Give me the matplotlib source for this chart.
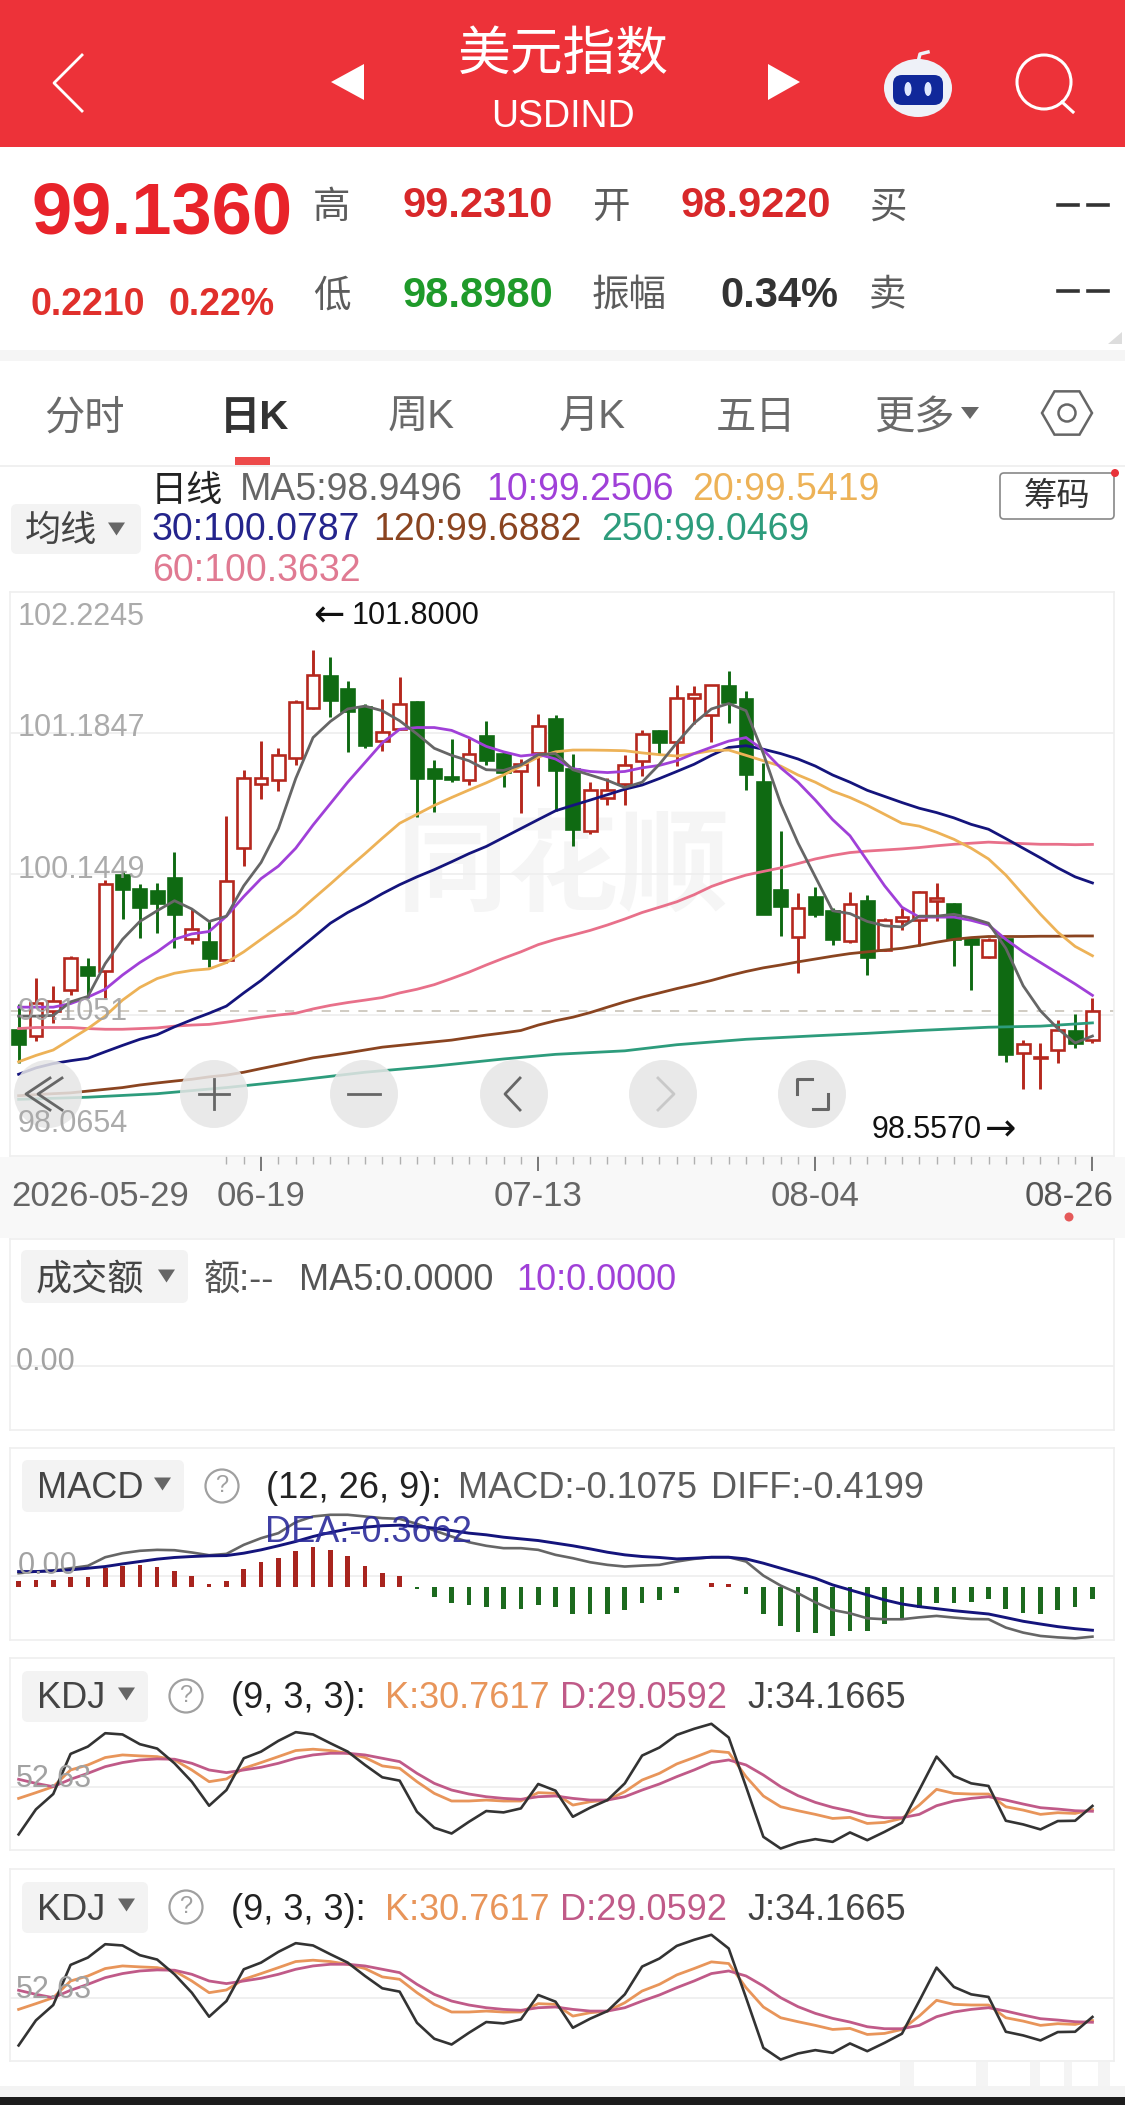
import numpy as np
import matplotlib
matplotlib.use("Agg")
import matplotlib.pyplot as plt
from matplotlib.patches import Circle, Ellipse, FancyBboxPatch, Polygon, Rectangle, RegularPolygon

plt.rcParams['font.family'] = ['Liberation Sans', 'Noto Sans CJK SC', 'DejaVu Sans']

W, H = 1125, 2105

# daily candles
opens = [98.991, 98.947, 99.136, 99.289, 99.460, 99.426, 100.137, 100.037, 100.016, 100.119, 99.663, 99.642, 99.511,
         100.335, 100.809, 100.835, 101.001, 101.370, 101.604, 101.512, 101.375, 101.125, 101.217, 101.410, 100.920,
         100.862, 100.835, 101.165, 101.033, 100.907, 101.038, 101.288, 100.922, 100.461, 100.704, 100.809, 100.980,
         101.199, 101.117, 101.441, 101.317, 101.528, 101.433, 100.827, 100.027, 99.684, 99.974, 99.874, 99.650,
         99.945, 99.584, 99.795, 99.808, 99.945, 99.927, 99.663, 99.532, 99.669, 98.826, 98.789, 98.847, 98.984, 98.922]
closes = [98.894, 99.194, 99.210, 99.526, 99.400, 100.071, 100.037, 99.900, 99.934, 99.848, 99.742, 99.526, 100.090,
          100.854, 100.854, 101.025, 101.412, 101.612, 101.428, 101.349, 101.099, 101.191, 101.396, 100.854, 100.854,
          100.849, 101.028, 100.985, 100.896, 100.954, 101.238, 100.914, 100.480, 100.764, 100.762, 100.949, 101.178,
          101.120, 101.446, 101.473, 101.539, 101.410, 100.880, 99.853, 99.906, 99.895, 99.848, 99.663, 99.927,
          99.532, 99.808, 99.829, 100.011, 99.966, 99.669, 99.629, 99.655, 98.820, 98.891, 98.799, 98.997, 98.899, 99.136]
highs = [99.189, 99.379, 99.321, 99.539, 99.524, 100.098, 100.164, 100.071, 100.079, 100.309, 99.887, 99.808, 100.572,
         100.914, 101.125, 101.072, 101.428, 101.800, 101.744, 101.565, 101.396, 101.433, 101.594, 101.423, 100.988,
         101.144, 101.151, 101.270, 101.046, 100.993, 101.323, 101.317, 101.028, 100.822, 100.856, 101.025, 101.209,
         101.204, 101.541, 101.528, 101.539, 101.639, 101.494, 100.967, 100.459, 100.006, 100.050, 99.892, 100.014,
         99.992, 99.821, 99.892, 100.019, 100.077, 99.932, 99.676, 99.676, 99.676, 98.920, 98.899, 99.070, 99.110, 99.231]
lows = [98.754, 98.912, 99.044, 99.255, 99.229, 99.229, 99.816, 99.676, 99.711, 99.597, 99.632, 99.458, 99.492,
        100.203, 100.696, 100.756, 100.949, 101.362, 101.304, 101.046, 101.072, 101.054, 101.204, 100.564, 100.604,
        100.827, 100.801, 100.949, 100.788, 100.598, 100.796, 100.611, 100.353, 100.440, 100.651, 100.651, 100.870,
        101.028, 100.941, 101.249, 101.120, 101.262, 100.762, 99.853, 99.690, 99.413, 99.827, 99.624, 99.637,
        99.400, 99.579, 99.729, 99.611, 99.795, 99.466, 99.289, 99.526, 98.762, 98.557, 98.560, 98.754, 98.860, 98.898]

ma5 = [99.097, 99.097, 99.102, 99.202, 99.242, 99.484, 99.663, 99.795, 99.874, 99.948, 99.887, 99.795, 99.834,
       100.058, 100.230, 100.480, 100.849, 101.151, 101.270, 101.362, 101.383, 101.349, 101.275, 101.178, 101.072,
       101.020, 100.980, 100.914, 100.909, 100.949, 101.025, 101.033, 100.914, 100.875, 100.835, 100.783, 100.822,
       100.954, 101.112, 101.257, 101.362, 101.402, 101.349, 101.033, 100.664, 100.374, 100.124, 99.874, 99.853,
       99.795, 99.763, 99.755, 99.834, 99.834, 99.848, 99.821, 99.782, 99.597, 99.321, 99.136, 99.005, 98.899, 98.950]
ma10 = [99.163, 99.163, 99.163, 99.189, 99.237, 99.295, 99.400, 99.492, 99.571, 99.663, 99.703, 99.721, 99.834,
        99.979, 100.111, 100.203, 100.335, 100.506, 100.664, 100.822, 100.967, 101.112, 101.212, 101.225, 101.225,
        101.204, 101.151, 101.086, 101.046, 101.015, 101.028, 100.993, 100.922, 100.901, 100.893, 100.901, 100.928,
        100.946, 100.980, 101.033, 101.080, 101.125, 101.151, 101.059, 100.928, 100.822, 100.690, 100.546, 100.427,
        100.243, 100.058, 99.900, 99.827, 99.827, 99.827, 99.803, 99.769, 99.663, 99.571, 99.492, 99.413, 99.334, 99.250]
ma20 = [98.760, 98.807, 98.847, 98.926, 99.005, 99.097, 99.215, 99.308, 99.374, 99.413, 99.434, 99.445, 99.492,
        99.571, 99.663, 99.755, 99.848, 99.961, 100.071, 100.185, 100.295, 100.409, 100.519, 100.585, 100.651,
        100.709, 100.764, 100.817, 100.875, 100.941, 101.007, 101.046, 101.059, 101.059, 101.057, 101.054, 101.038,
        101.025, 101.015, 101.033, 101.054, 101.059, 101.020, 100.980, 100.941, 100.875, 100.822, 100.756, 100.709,
        100.651, 100.585, 100.519, 100.498, 100.453, 100.401, 100.335, 100.256, 100.137, 99.992, 99.848, 99.716, 99.611, 99.542]
ma30 = [98.668, 98.715, 98.747, 98.768, 98.786, 98.834, 98.881, 98.926, 98.960, 99.018, 99.070, 99.118, 99.171,
        99.268, 99.360, 99.466, 99.571, 99.676, 99.782, 99.861, 99.927, 100.000, 100.066, 100.124, 100.177,
        100.235, 100.295, 100.348, 100.414, 100.480, 100.546, 100.611, 100.651, 100.690, 100.730, 100.770, 100.801,
        100.849, 100.901, 100.954, 101.020, 101.078, 101.091, 101.065, 101.033, 100.993, 100.941, 100.875, 100.822,
        100.762, 100.717, 100.672, 100.630, 100.598, 100.559, 100.511, 100.475, 100.406, 100.335, 100.264, 100.190, 100.124, 100.079]
ma60 = [99.005, 99.013, 99.013, 99.013, 99.005, 99.000, 99.000, 99.005, 99.010, 99.023, 99.031, 99.036, 99.052,
        99.070, 99.089, 99.105, 99.118, 99.150, 99.176, 99.197, 99.215, 99.234, 99.268, 99.295, 99.329,
        99.374, 99.421, 99.474, 99.524, 99.571, 99.624, 99.663, 99.695, 99.729, 99.769, 99.813, 99.861,
        99.900, 99.940, 99.992, 100.053, 100.098, 100.137, 100.164, 100.190, 100.222, 100.256, 100.282, 100.303,
        100.314, 100.322, 100.330, 100.340, 100.353, 100.364, 100.372, 100.380, 100.374, 100.369, 100.364, 100.364, 100.361, 100.363]
ma120 = [98.510, 98.518, 98.525, 98.531, 98.544, 98.557, 98.570, 98.589, 98.604, 98.618, 98.631, 98.649, 98.662,
         98.683, 98.710, 98.736, 98.762, 98.789, 98.807, 98.826, 98.847, 98.868, 98.881, 98.894, 98.907,
         98.920, 98.939, 98.957, 98.973, 98.991, 99.031, 99.063, 99.089, 99.123, 99.163, 99.202, 99.237,
         99.268, 99.300, 99.329, 99.360, 99.395, 99.426, 99.453, 99.474, 99.497, 99.518, 99.539, 99.558,
         99.571, 99.584, 99.597, 99.618, 99.642, 99.663, 99.676, 99.684, 99.684, 99.684, 99.686, 99.686, 99.688, 99.688]
ma250_idx = [0, 4, 8, 12, 16, 20, 24, 28, 31, 35, 38, 42, 46, 49, 52, 56, 59, 62]
ma250 = [98.483, 98.499, 98.525, 98.570, 98.623, 98.683, 98.728, 98.781, 98.815, 98.841, 98.886, 98.926,
         98.952, 98.970, 98.991, 99.015, 99.023, 99.047]

macd_hist = [.050, .056, .056, .084, .084, .154, .174, .182, .162, .134, .090, .022, .045, .148, .202, .241, .297,
             .330, .308, .258, .174, .112, .090, -.020, -.090, -.140, -.154, -.168, -.185, -.188, -.154, -.168,
             -.232, -.232, -.227, -.196, -.140, -.112, -.050, -.006, .028, .022, -.062, -.232, -.328, -.378, -.392,
             -.412, -.370, -.370, -.314, -.280, -.182, -.140, -.134, -.126, -.104, -.188, -.218, -.232, -.196, -.168, -.1075]
macd_diff = [.112, .126, .134, .154, .174, .246, .280, .300, .308, .305, .286, .263, .274, .350, .406, .448, .540,
             .588, .602, .602, .588, .574, .568, .526, .470, .420, .372, .342, .322, .322, .308, .266,
             .238, .204, .182, .168, .176, .182, .210, .232, .246, .246, .210, .092, .008, -.056, -.132,
             -.196, -.224, -.266, -.274, -.274, -.258, -.246, -.260, -.272, -.274, -.344, -.386, -.414, -.426, -.434, -.4199]
macd_dea = [.126, .126, .132, .140, .154, .168, .190, .210, .230, .244, .252, .258, .260, .280, .308, .342, .378,
            .420, .454, .482, .498, .510, .515, .504, .490, .470, .448, .434, .414, .400, .386, .364,
            .342, .316, .288, .266, .252, .244, .232, .238, .246, .246, .232, .196, .154, .112, .070,
            .014, -.028, -.070, -.112, -.146, -.168, -.185, -.202, -.216, -.230, -.260, -.291, -.314, -.336, -.353, -.3662]

kdj_k = [41.4, 46.9, 52.6, 68.6, 73.4, 80.5, 83.0, 82.1, 81.4, 78.2, 68.6, 57.4, 60.0, 70.2, 75.7, 81.4, 87.2,
         88.5, 87.2, 84.6, 80.5, 72.5, 70.2, 57.4, 46.2, 38.9, 38.9, 39.8, 38.9, 38.9, 46.9, 46.2,
         35.0, 38.2, 39.8, 47.8, 59.0, 65.4, 74.4, 80.5, 86.9, 85.3, 62.2, 43.7, 33.4, 29.6, 26.1,
         22.2, 23.2, 17.4, 18.4, 22.2, 35.0, 50.1, 46.2, 45.6, 45.6, 33.4, 30.2, 26.1, 27.7, 27.0, 30.76]
kdj_d = [59.7, 55.8, 52.6, 59.7, 65.4, 71.8, 75.7, 78.2, 79.2, 78.9, 75.0, 68.6, 66.1, 68.6, 71.2, 75.0, 79.8,
         83.0, 84.6, 84.6, 83.0, 79.8, 76.6, 65.4, 55.8, 49.4, 45.6, 43.0, 41.4, 40.5, 43.0, 43.7,
         41.4, 39.8, 39.8, 43.0, 49.4, 55.2, 62.2, 68.6, 75.7, 78.2, 73.4, 63.8, 52.6, 44.0, 37.6,
         32.8, 29.3, 24.8, 22.9, 22.9, 26.1, 34.4, 38.9, 41.4, 43.0, 39.8, 36.0, 32.5, 31.2, 29.6, 29.06]
kdj_j = [6.9, 30.9, 45.6, 84.0, 91.0, 103.8, 102.6, 93.3, 89.1, 75.0, 57.4, 34.4, 49.4, 79.8, 86.2, 96.5, 104.8,
         102.6, 94.2, 86.2, 73.4, 61.6, 58.4, 28.6, 13.3, 7.8, 19.0, 29.3, 28.0, 31.8, 55.2, 48.8,
         23.8, 32.5, 39.8, 55.8, 82.4, 90.1, 102.2, 108.0, 112.8, 99.7, 52.6, 4.6, -6.6, -0.8, 2.4,
         -0.2, 8.8, 1.4, 9.4, 18.1, 49.4, 81.4, 62.9, 55.8, 53.3, 20.0, 16.5, 11.7, 19.7, 20.0, 34.17]

price_grid = [101.1847, 100.1449, 99.1051]
price_labels = ['102.2245', '101.1847', '100.1449', '99.1051', '98.0654']
last_price = 99.136
major_ticks = [14, 30, 46, 62]
date_labels = ['06-19', '07-13', '08-04']

RED = '#b5281e'
GREEN = '#0f6a12'
GRID = '#eeeeee'
LABEL = '#a2a2a2'
C_MA5, C_MA10, C_MA20, C_MA30 = '#666666', '#a040d8', '#edb257', '#14147c'
C_MA60, C_MA120, C_MA250 = '#e8708a', '#8a4420', '#2d9c7c'
C_K, C_D, C_J = '#e8955a', '#c05a88', '#333333'

fig = plt.figure(figsize=(W / 100, H / 100), dpi=100, facecolor='white')

# page layer in pixel coordinates
bg = fig.add_axes([0, 0, 1, 1], zorder=0)
bg.set_xlim(0, W)
bg.set_ylim(H, 0)
bg.axis('off')
top = fig.add_axes([0, 0, 1, 1], zorder=5)
top.set_xlim(0, W)
top.set_ylim(H, 0)
top.axis('off')


def t(x, y, s, size, color='#333333', ha='left', weight='normal', layer=None, alpha=None, family=None):
    # text centres sat a little high against the screenshot
    (layer or bg).text(x, y + 3, s, fontsize=size, color=color, ha=ha, va='center', fontweight=weight,
                       alpha=alpha, family=family)


def box(layer, x0, y0, x1, y1, color, r=6):
    layer.add_patch(FancyBboxPatch((x0 + r, y0 + r), x1 - x0 - 2 * r, y1 - y0 - 2 * r,
                                   boxstyle='round,pad=%d' % r, fc=color, ec='none'))


def tri_down(x, y, color='#666666', w=17, h=13):
    bg.add_patch(Polygon([(x, y - h / 2), (x + w, y - h / 2), (x + w / 2, y + h / 2)], fc=color, ec='none'))


def help_icon(x, y):
    bg.add_patch(Circle((x, y), 16.5, fc='none', ec='#a0a0a0', lw=1.6))
    t(x, y - 3, '?', 17, '#a0a0a0', ha='center')


def panel(top_px, bottom_px):
    # x axis shared by every panel: one unit is one trading day
    ax = fig.add_axes([10 / W, 1 - bottom_px / H, 1104 / W, (bottom_px - top_px) / H], zorder=2)
    ax.set_xlim(-0.4965, 63.245)
    ax.set_facecolor('none')
    ax.tick_params(length=0, labelleft=False, labelbottom=False)
    ax.set_xticks([])
    for sp in ax.spines.values():
        sp.set_color('#efefef')
        sp.set_linewidth(1.2)
    ax.grid(axis='y', color=GRID, lw=1.2)
    ax.set_axisbelow(True)
    return ax


# header
bg.add_patch(Rectangle((0, 0), W, 147, fc='#ed3239', ec='none'))
bg.plot([82, 54, 82], [55, 83, 111], color='white', lw=2)
bg.add_patch(Polygon([(364, 64), (331, 82), (364, 100)], fc='white', ec='none'))
bg.add_patch(Polygon([(768, 64), (800, 82), (768, 100)], fc='white', ec='none'))
t(563, 53, '美元指数', 38, 'white', ha='center')
t(563, 114, 'USDIND', 27, 'white', ha='center')
bg.add_patch(Ellipse((918, 88), 68, 58, fc='#eef1f8', ec='none'))
bg.plot([918, 920, 928], [62, 54, 52], color='#eef1f8', lw=2.5)
bg.add_patch(FancyBboxPatch((902, 84), 32, 12, boxstyle='round,pad=9', fc='#10289a', ec='none'))
bg.add_patch(Ellipse((908, 89), 7, 14, fc='#dfe8ff', ec='none'))
bg.add_patch(Ellipse((928, 89), 7, 14, fc='#dfe8ff', ec='none'))
bg.add_patch(Circle((1044, 82), 27, fc='none', ec='white', lw=2.2))
bg.plot([1062, 1073], [102, 112], color='white', lw=2.2)

# quote block
t(31, 212, '99.1360', 52, '#e8232a', weight='bold')
t(30, 302, '0.2210', 27, '#e0302c', weight='bold')
t(169, 302, '0.22%', 27, '#e0302c', weight='bold')
for lab, x, y in [('高', 313, 205), ('低', 313, 293), ('开', 592, 205), ('振幅', 592, 293), ('买', 869, 205), ('卖', 869, 293)]:
    t(x, y, lab, 27, '#5c5c5c')
t(402, 203, '99.2310', 30, '#d8282a', weight='bold')
t(680, 203, '98.9220', 30, '#d8282a', weight='bold')
t(402, 293, '98.8980', 30, '#1f9a2a', weight='bold')
t(720, 293, '0.34%', 30, '#333333', weight='bold')
for y in (205, 291):
    bg.plot([1058, 1078], [y, y], color='#333333', lw=2.6)
    bg.plot([1088, 1108], [y, y], color='#333333', lw=2.6)
bg.add_patch(Polygon([(1122, 332), (1122, 344), (1108, 344)], fc='#dddddd', ec='none'))
bg.add_patch(Rectangle((0, 350), W, 11, fc='#f5f5f5', ec='none'))

# tabs
t(84, 415, '分时', 29, '#6a6a6a', ha='center')
t(255, 415, '日K', 29, '#333333', ha='center', weight='bold')
t(421, 415, '周K', 29, '#6a6a6a', ha='center')
t(592, 415, '月K', 29, '#6a6a6a', ha='center')
t(756, 415, '五日', 29, '#6a6a6a', ha='center')
t(874, 415, '更多', 29, '#6a6a6a')
tri_down(961, 413, w=18, h=12)
bg.add_patch(RegularPolygon((1067, 413), 6, radius=25, orientation=np.pi / 6, fc='none', ec='#666666', lw=1.8))
bg.add_patch(Circle((1067, 413), 8.5, fc='none', ec='#666666', lw=1.8))
bg.add_patch(Rectangle((235, 457), 35, 8, fc='#ed4a4a', ec='none'))
bg.plot([0, W], [466, 466], color='#eeeeee', lw=1.2)

# moving average legend
t(151, 488, '日线', 26, '#222222')
t(240, 487, 'MA5:98.9496', 27, '#666666')
t(486, 487, '10:99.2506', 27, C_MA10)
t(692, 487, '20:99.5419', 27, C_MA20)
t(152, 527, '30:100.0787', 27, '#24248c')
t(373, 527, '120:99.6882', 27, C_MA120)
t(601, 527, '250:99.0469', 27, C_MA250)
t(152, 568, '60:100.3632', 27, '#e07a92')
box(bg, 11, 504, 141, 554, '#f3f3f3')
t(25, 528, '均线', 26, '#444444')
tri_down(108, 529)
bg.add_patch(FancyBboxPatch((1004, 477), 106, 38, boxstyle='round,pad=4', fc='white', ec='#888888', lw=1.2))
t(1057, 494, '筹码', 24, '#333333', ha='center')
bg.add_patch(Circle((1115, 473), 4, fc='#e8333a', ec='none'))

# date strip behind the tick marks
bg.add_patch(Rectangle((0, 1157), W, 81, fc='#f8f8f8', ec='none'))
t(563, 870, '同花顺', 80, '#f5f5f5', ha='center', weight='bold')

# price panel
x = np.arange(len(closes))
ax = panel(592, 1156)
ax.set_ylim(98.0654, 102.2245)
ax.set_yticks(price_grid)
ax.axhline(last_price, color='#c4bdb2', lw=1.1, dashes=(6, 6), zorder=1)
ax.set_xticks(range(12, 63), minor=True)
ax.set_xticks(major_ticks)
ax.tick_params(axis='x', which='major', length=11, width=1.4, color='#777777')
ax.tick_params(axis='x', which='minor', length=6, width=1, color='#b0b0b0')
for i in x:
    up = closes[i] >= opens[i]
    col = RED if up else GREEN
    ax.vlines(i, lows[i], highs[i], color=col, lw=2.1, zorder=2)
    lo, hi = min(opens[i], closes[i]), max(opens[i], closes[i])
    ax.bar(i, hi - lo, bottom=lo, width=0.74, fc='white' if up else col, ec=col, lw=1.9, zorder=3)
ax.plot(ma250_idx, ma250, color=C_MA250, lw=2, zorder=4)
for vals, col in [(ma120, C_MA120), (ma60, C_MA60), (ma30, C_MA30), (ma20, C_MA20), (ma10, C_MA10), (ma5, C_MA5)]:
    ax.plot(x, vals, color=col, lw=2, zorder=4)

ys = [614, 725, 867, 1009, 1121]
for lab, y in zip(price_labels, ys):
    t(18, y, lab, 22, LABEL, layer=top, alpha=0.9)
t(313, 613, '←', 27, '#111111', layer=top, family=['DejaVu Sans'])
t(352, 613, '101.8000', 22, '#111111', layer=top)
t(872, 1127, '98.5570', 22, '#111111', layer=top)
t(985, 1127, '→', 27, '#111111', layer=top, family=['DejaVu Sans'])

# floating zoom buttons
for cx in (48, 214, 364, 514, 663, 812):
    top.add_patch(Circle((cx, 1094), 34, fc='#e6e6e6', ec='none', alpha=0.85))
top.plot([62, 38, 62], [1078, 1094, 1110], color='#666666', lw=2)
top.plot([50, 26, 50], [1078, 1094, 1110], color='#666666', lw=2)
top.plot([199, 229], [1094, 1094], color='#666666', lw=2)
top.plot([214, 214], [1079, 1109], color='#666666', lw=2)
top.plot([348, 380], [1094, 1094], color='#666666', lw=2)
top.plot([520, 505, 520], [1078, 1094, 1110], color='#666666', lw=2)
top.plot([658, 674, 658], [1078, 1094, 1110], color='#c8c8c8', lw=2)
top.plot([797, 797, 812], [1094, 1079, 1079], color='#666666', lw=2.2)
top.plot([828, 828, 813], [1094, 1109, 1109], color='#666666', lw=2.2)

# x labels
t(11, 1193, '2026-05-29', 25, '#666666', layer=top)
for lab, i in zip(date_labels, major_ticks):
    t(18.6 + 17.32 * i, 1193, lab, 25, '#666666', ha='center', layer=top)
t(1114, 1193, '08-26', 25, '#555555', ha='right', layer=top)
top.add_patch(Circle((1069, 1217), 4.5, fc='#e55a5a', ec='none'))

# turnover panel (empty)
vol = panel(1239, 1430)
vol.set_ylim(-1, 2)
vol.set_yticks([0])
box(bg, 21, 1250, 188, 1303, '#f3f3f3')
t(36, 1277, '成交额', 26, '#444444')
tri_down(158, 1276)
t(204, 1277, '额:--', 26, '#555555')
t(299, 1277, 'MA5:0.0000', 26, '#555555')
t(516, 1277, '10:0.0000', 26, C_MA10)
t(16, 1359, '0.00', 22, LABEL, layer=top)

# MACD panel
macd = panel(1448, 1640)
macd.set_ylim(-0.448, 1.162)
macd.set_yticks([0.09])
hist_colors = ['#a8241e' if v >= 0 else '#1c6a1e' for v in macd_hist]
macd.bar(x, macd_hist, width=0.27, color=hist_colors, zorder=2)
macd.plot(x, macd_diff, color='#666666', lw=1.9, zorder=3)
macd.plot(x, macd_dea, color='#14147c', lw=2.1, zorder=3)
box(bg, 22, 1460, 184, 1512, '#f3f3f3')
t(37, 1486, 'MACD', 26, '#444444')
tri_down(154, 1484)
help_icon(222, 1486)
t(266, 1486, '(12, 26, 9):', 26, '#222222')
t(458, 1486, 'MACD:-0.1075', 26, '#5c5c5c')
t(711, 1486, 'DIFF:-0.4199', 26, '#5c5c5c')
t(265, 1530, 'DEA:-0.3662', 26, '#2a2a9a', layer=top, alpha=0.9)
t(18, 1563, '0.00', 22, LABEL, layer=top)


def kdj_panel(top_px):
    p = panel(top_px, top_px + 192)
    p.set_ylim(-8, 175.8)
    p.set_yticks([52.63])
    p.plot(x, kdj_k, color=C_K, lw=2, zorder=3)
    p.plot(x, kdj_d, color=C_D, lw=2, zorder=3)
    p.plot(x, kdj_j, color=C_J, lw=1.9, zorder=3)
    y = top_px + 38
    box(bg, 22, top_px + 13, 148, top_px + 64, '#f3f3f3')
    t(37, y, 'KDJ', 26, '#444444')
    tri_down(118, y - 2)
    help_icon(186, y)
    t(231, y, '(9, 3, 3):', 26, '#222222')
    t(385, y, 'K:30.7617', 26, C_K)
    t(560, y, 'D:29.0592', 26, C_D)
    t(747, y, 'J:34.1665', 26, '#444444')
    t(16, top_px + 118, '52.63', 22, LABEL, layer=top)


kdj_panel(1658)
kdj_panel(1869)

# bottom of the screenshot
for x0, w in [(900, 14), (976, 12), (1030, 10), (1064, 8), (1098, 12)]:
    bg.add_patch(Rectangle((x0, 2062), w, 26, fc='#f4f4f4', ec='none'))
bg.add_patch(Rectangle((0, 2086), W, 11, fc='#f3f3f3', ec='none'))
bg.add_patch(Rectangle((0, 2097), W, 8, fc='#1c1c1c', ec='none'))

fig.savefig('out.png', dpi=100)
